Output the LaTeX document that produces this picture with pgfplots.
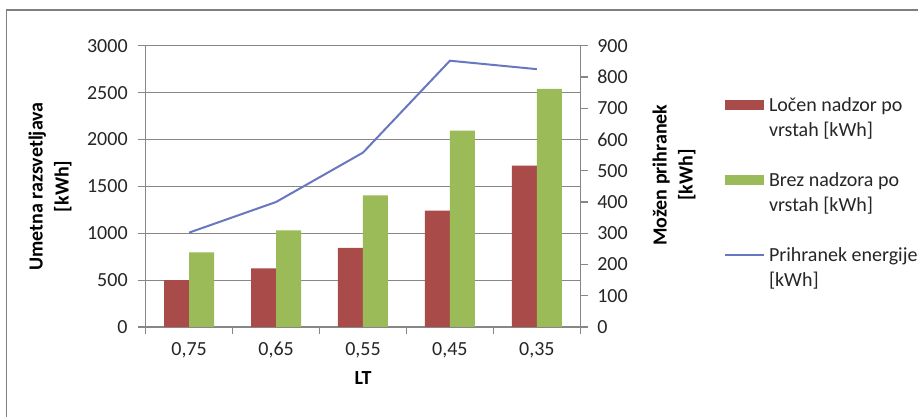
\documentclass[border=0pt]{standalone}
\usepackage{pgfplots}
\pgfplotsset{compat=1.18}
\usepackage{fontspec}
\setmainfont{Carlito}
\definecolor{redbar}{HTML}{A94B48}
\definecolor{greenbar}{HTML}{9BBB59}
\definecolor{blueline}{HTML}{6878C0}
\definecolor{gridgray}{HTML}{878787}
\definecolor{framegray}{HTML}{7F7F7F}
\definecolor{txt}{HTML}{262626}
\pgfplotsset{
  barleg/.style={legend image code/.code={\fill[##1] (0pt,0.8pt) rectangle (19.5pt,6pt);}},
  lineleg/.style={legend image code/.code={\draw[##1] (0pt,3.3pt) -- (19.5pt,3.3pt);}},
  common/.style={
    at={(72.85pt,45pt)}, anchor=south west,
    scale only axis, width=217.3pt, height=140.65pt,
    xmin=-0.5, xmax=4.5,
    /pgf/number format/assume math mode=true,
    /pgf/number format/1000 sep={},
    tick label style={font=\fontsize{10}{12}\selectfont, text=txt},
    axis line style={gridgray, line width=0.6pt},
    tick style={gridgray, line width=0.6pt},
    tick align=outside,
    major tick length=4pt,
    label style={font=\bfseries\fontsize{10}{13}\selectfont, text=black},
  },
}
\begin{document}
\begin{tikzpicture}
\useasboundingbox (0,0) rectangle (459pt,208.5pt);
\fill[white] (0,0) rectangle (459pt,208.5pt);
\draw[framegray, line width=0.8pt] (3.35pt,-10pt) rectangle (470pt,203.5pt);
\begin{axis}[
  common,
  ymin=0, ymax=3000,
  axis x line*=bottom, axis y line*=left,
  ybar=0pt, bar width=12.5pt,
  xtick={0,1,2,3,4},
  xticklabels={{0,75},{0,65},{0,55},{0,45},{0,35}},
  major x tick style={draw=none},
  minor xtick={-0.5,0.5,1.5,2.5,3.5,4.5},
  minor x tick style={gridgray, line width=0.6pt},
  minor tick length=3.3pt,
  ytick={0,500,...,3000},
  yticklabel style={xshift=-1.5pt},
  ymajorgrids,
  grid style={gridgray, line width=0.6pt},
  xlabel={LT},
  xlabel style={at={(axis description cs:0.5,-0.1813)}, anchor=center},
  ylabel={Umetna razsvetljava\\{}[kWh]},
  ylabel style={align=center, at={(axis description cs:-0.2202,0.5)}, anchor=center},
]
\addplot[fill=redbar, draw=none] coordinates {(0,500) (1,625) (2,845) (3,1240) (4,1720)};
\addplot[fill=greenbar, draw=none] coordinates {(0,795) (1,1030) (2,1405) (3,2095) (4,2540)};
\end{axis}
\begin{axis}[
  common,
  ymin=0, ymax=900,
  axis x line=none, axis y line*=right,
  ytick={0,100,...,900},
  yticklabel style={xshift=1pt},
  ylabel={Možen prihranek\\{}[kWh]},
  ylabel style={align=center, at={(axis description cs:1.2156,0.540)}, anchor=center, rotate=0},
  legend style={at={(axis description cs:1.3307,0.828)}, anchor=north west,
    draw=none, fill=none, inner sep=0pt, outer sep=0pt,
    row sep={37.5pt,between origins}, column sep=0pt,
    cells={anchor=base west, inner xsep=2.2pt, inner ysep=0pt},
    font=\fontsize{10}{12.2}\selectfont, text=txt},
]
\addlegendimage{barleg, fill=redbar, draw=none}
\addlegendentry{\parbox[t]{90pt}{Ločen nadzor po\\vrstah [kWh]}}
\addlegendimage{barleg, fill=greenbar, draw=none}
\addlegendentry{\parbox[t]{90pt}{Brez nadzora po\\vrstah [kWh]}}
\addplot[blueline, line width=1pt, lineleg] coordinates {(0,302) (1,400) (2,558) (3,852) (4,825)};
\addlegendentry{\parbox[t]{90pt}{Prihranek energije\\{}[kWh]}}
\end{axis}
\end{tikzpicture}
\end{document}
